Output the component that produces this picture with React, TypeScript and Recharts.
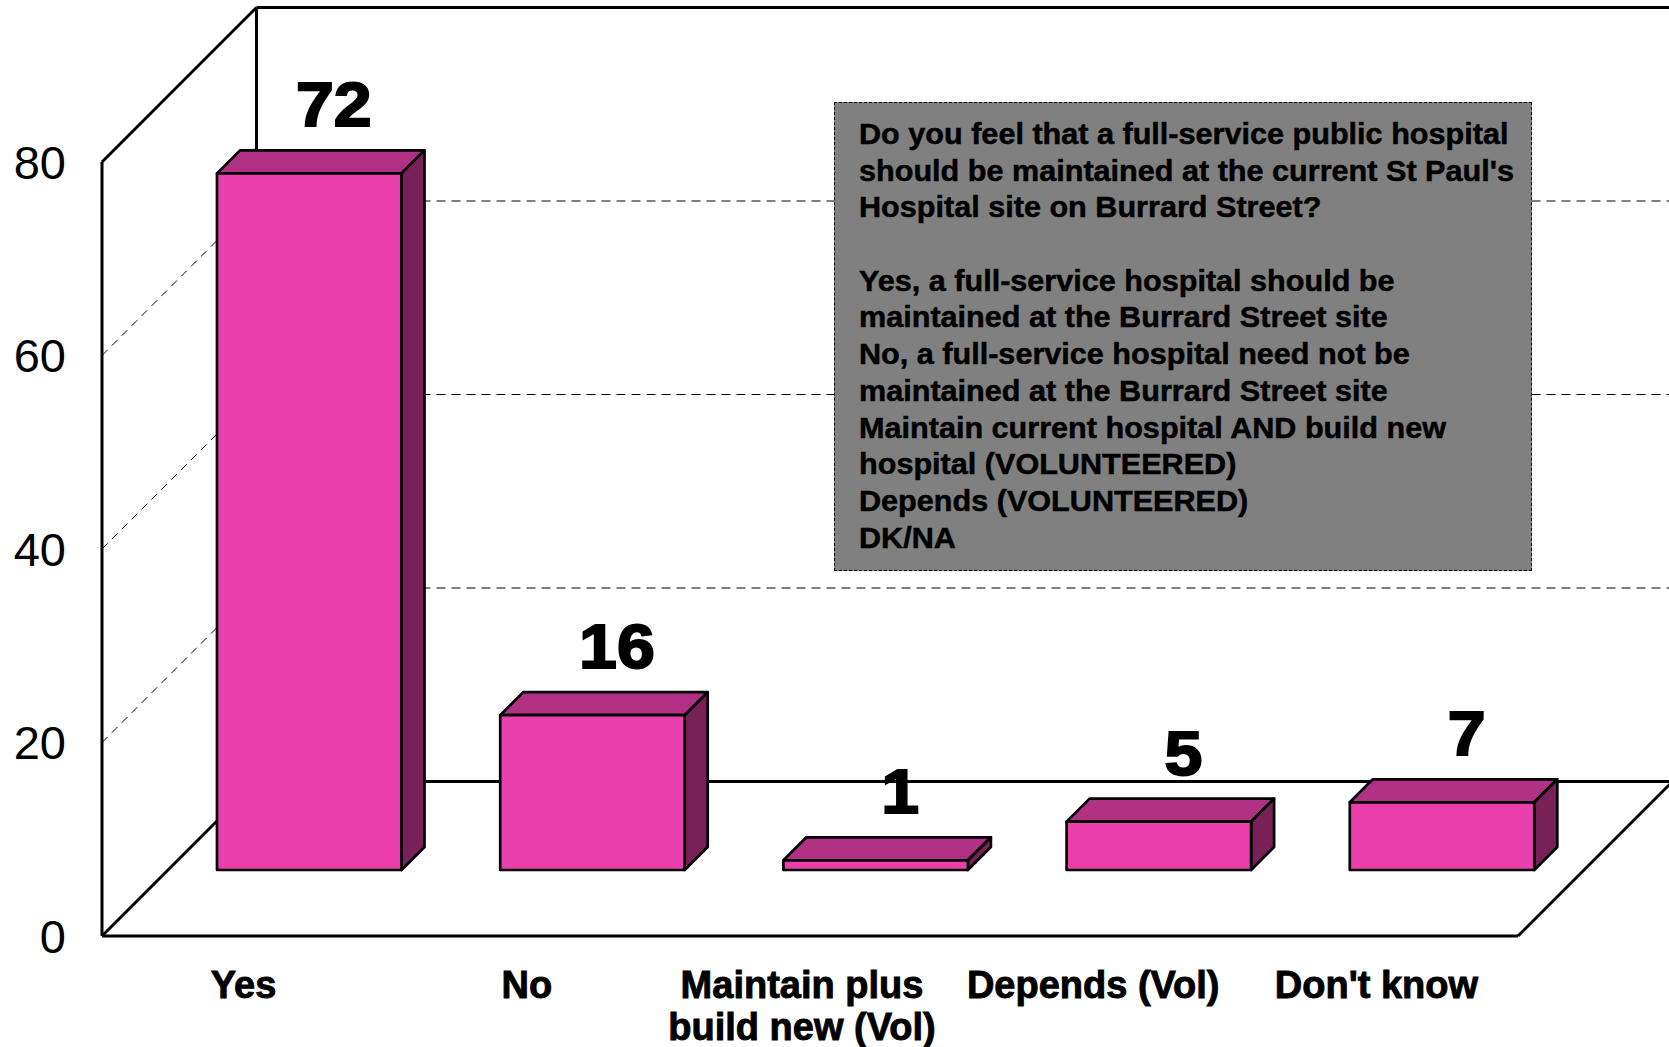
import { BarChart, Bar, XAxis, YAxis, ReferenceLine, LabelList } from 'recharts';

const categories = ['Yes', 'No', 'Maintain plus build new (Vol)', 'Depends (Vol)', "Don't know"];
const values = [72, 16, 1, 5, 7];
const yTicks = [0, 20, 40, 60, 80];
const gridValues = [20, 40, 60];
const labelLines: Record<string, string[]> = {
  'Maintain plus build new (Vol)': ['Maintain plus', 'build new (Vol)'],
};
const noteLines = [
  'Do you feel that a full-service public hospital',
  "should be maintained at the current St Paul's",
  'Hospital site on Burrard Street?',
  '',
  'Yes, a full-service hospital should be',
  'maintained at the Burrard Street site',
  'No, a full-service hospital need not be',
  'maintained at the Burrard Street site',
  'Maintain current hospital AND build new',
  'hospital (VOLUNTEERED)',
  'Depends (VOLUNTEERED)',
  'DK/NA',
];

const data = categories.map((name, i) => ({ name, value: values[i] }));

// fake 3d: the walls recede by WALL, bars stand SHIFT back from the front edge
const WALL = 154.5;
const SHIFT = 66;
const BAR_DEPTH = 23;
const PLOT_H = 774;
const FONT = '"Liberation Sans", Arial, sans-serif';

function Bar3D({ x, y, width, height }: any) {
  const l = x + SHIFT;
  const r = l + width;
  const t = y - SHIFT;
  const b = t + height;
  const d = BAR_DEPTH;
  return (
    <g stroke="#000" strokeWidth={2.7} strokeLinejoin="round">
      <polygon points={`${l},${t} ${l + d},${t - d} ${r + d},${t - d} ${r},${t}`} fill="#B03083" />
      <polygon points={`${r},${t} ${r + d},${t - d} ${r + d},${b - d} ${r},${b}`} fill="#772158" />
      <rect x={l} y={t} width={width} height={height} fill="#EA40AE" />
    </g>
  );
}

function GridShape({ x1, y1, x2 }: any) {
  return (
    <g stroke="#000" strokeWidth={1} fill="none">
      <line x1={x1} y1={y1} x2={x1 + WALL} y2={y1 - WALL} strokeDasharray="8 6" />
      <line x1={x1 + WALL} y1={y1 - WALL} x2={x2 + WALL} y2={y1 - WALL} strokeDasharray="9 6" />
    </g>
  );
}

function FloorShape({ x1, y1, x2 }: any) {
  return (
    <g stroke="#000" strokeWidth={3} fill="none">
      <line x1={x1} y1={y1} x2={x2} y2={y1} />
      <line x1={x1} y1={y1} x2={x1 + WALL} y2={y1 - WALL} />
      <line x1={x2} y1={y1} x2={x2 + WALL} y2={y1 - WALL} />
      <line x1={x1 + WALL} y1={y1 - WALL} x2={x2 + WALL} y2={y1 - WALL} />
    </g>
  );
}

function TopShape({ x1, y1, x2 }: any) {
  return (
    <g stroke="#000" strokeWidth={3} fill="none">
      <line x1={x1} y1={y1} x2={x1} y2={y1 + PLOT_H} />
      <line x1={x1} y1={y1} x2={x1 + WALL} y2={y1 - WALL} />
      <line x1={x1 + WALL} y1={y1 - WALL} x2={x1 + WALL} y2={y1 - WALL + PLOT_H} />
      <line x1={x1 + WALL} y1={y1 - WALL} x2={x2 + WALL} y2={y1 - WALL} />
    </g>
  );
}

function CategoryTick({ x, y, payload }: any) {
  const lines = labelLines[payload.value] || [payload.value];
  return (
    <text
      x={lines.length > 1 ? x - 8 : x}
      y={y + 54}
      textAnchor="middle"
      fontFamily={FONT}
      fontWeight={700}
      fontSize={38}
      fill="#000"
      stroke="#000"
      strokeWidth={0.9}
    >
      {lines.map((line: string, i: number) => (
        <tspan key={line} x={lines.length > 1 ? x - 8 : x} dy={i === 0 ? 0 : 42}>
          {line}
        </tspan>
      ))}
    </text>
  );
}

function ValueLabel({ x, y, width, value }: any) {
  const cx = x + SHIFT + width / 2 + BAR_DEPTH + 1.5;
  return (
    <text
      x={0}
      y={0}
      transform={`translate(${cx} ${y - SHIFT - 47}) scale(1.08 1)`}
      textAnchor="middle"
      fontFamily={FONT}
      fontWeight={700}
      fontSize={63}
      fill="#000"
      stroke="#000"
      strokeWidth={2}
    >
      {value}
    </text>
  );
}

export default function App() {
  return (
    <div style={{ position: 'absolute', left: 0, top: 0, width: 1669, height: 1047, overflow: 'hidden', background: '#fff' }}>
      <BarChart
        width={1669}
        height={1047}
        data={data}
        margin={{ top: 162, right: 151, bottom: 0, left: 42 }}
        barSize={184.5}
      >
        <XAxis dataKey="name" interval={0} axisLine={false} tickLine={false} height={111} tick={<CategoryTick />} />
        <YAxis
          width={60}
          domain={[0, 80]}
          ticks={yTicks}
          axisLine={false}
          tickLine={false}
          tickSize={0}
          tickMargin={36}
          tick={{ fontSize: 47, fontFamily: FONT, fill: '#000' }}
        />
        {gridValues.map((v) => (
          <ReferenceLine key={v} y={v} zIndex={100} shape={<GridShape />} />
        ))}
        <ReferenceLine y={0} zIndex={100} shape={<FloorShape />} />
        <ReferenceLine y={80} zIndex={100} shape={<TopShape />} />
        <Bar dataKey="value" isAnimationActive={false} shape={<Bar3D />}>
          <LabelList dataKey="value" content={<ValueLabel />} />
        </Bar>
      </BarChart>
      <div
        style={{
          position: 'absolute',
          left: 834,
          top: 102,
          width: 696,
          height: 467,
          background: '#808080',
          border: '1px dashed #000',
          overflow: 'hidden',
        }}
      >
        <div
          style={{
            position: 'absolute',
            left: 24,
            top: 13,
            fontFamily: FONT,
            fontWeight: 700,
            fontSize: 29,
            lineHeight: '36.7px',
            color: '#000',
            whiteSpace: 'pre',
            WebkitTextStroke: '0.5px #000',
            transform: 'scaleX(1.055)',
            transformOrigin: 'left top',
          }}
        >
          {noteLines.map((line, i) => (
            <div key={i} style={{ height: 36.7 }}>
              {line}
            </div>
          ))}
        </div>
      </div>
    </div>
  );
}
